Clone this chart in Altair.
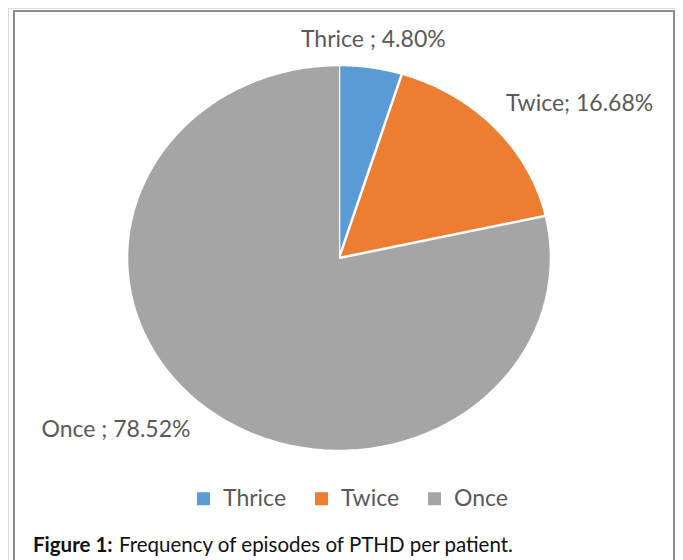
import altair as alt
import pandas as pd

# ---- data ----
categories = ["Thrice", "Twice", "Once"]
percentages = [4.80, 16.68, 78.52]
label_texts = ["Thrice ; 4.80%", "Twice; 16.68%", "Once ; 78.52%"]
colors = ["#5B9BD5", "#ED7D31", "#A5A5A5"]

df = pd.DataFrame({
    "category": categories,
    "pct": percentages,
    "label": label_texts,
    "order": list(range(len(categories))),
})

# ---- layout constants (pixel-unit scales) ----
W, H = 667, 552
CX, CY = 331, 250          # pie centre inside the view
RX, RY = 212, 193          # elliptical radii (original chart is stretched)
N = 90
FONT = "Lato"
GREY_TXT = "#595959"

xscale = alt.Scale(domain=[-CX, W - CX], nice=False, zero=False)
yscale = alt.Scale(domain=[-(H - CY), CY], nice=False, zero=False)

base = alt.Chart(df).transform_window(
    cum="sum(pct)", sort=[alt.SortField("order")], frame=[None, 0]
).transform_joinaggregate(
    total="sum(pct)"
).transform_calculate(
    a0="(datum.cum - datum.pct) / datum.total * 2 * PI",
    a1="datum.cum / datum.total * 2 * PI",
)

color_enc = alt.Color(
    "category:N",
    scale=alt.Scale(domain=categories, range=colors),
    sort=categories,
    legend=alt.Legend(
        title=None,
        orient="none",
        direction="horizontal",
        legendX=184,
        legendY=479,
        symbolType="square",
        symbolSize=170,
        symbolStrokeWidth=0,
        labelFont=FONT,
        labelFontSize=23,
        labelColor=GREY_TXT,
        labelOffset=8,
        columnPadding=23,
    ),
)

slices = base.transform_calculate(
    idx=f"sequence(-1, {N + 1})"
).transform_flatten(["idx"]).transform_calculate(
    t=f"datum.a0 + (datum.a1 - datum.a0) * max(datum.idx, 0) / {N}",
    r="datum.idx < 0 ? 0 : 1",
).transform_calculate(
    px=f"{RX} * datum.r * sin(datum.t)",
    py=f"{RY} * datum.r * cos(datum.t)",
).mark_line(filled=True, stroke="white", strokeWidth=2.5, strokeJoin="round").encode(
    x=alt.X("px:Q", scale=xscale, axis=None),
    y=alt.Y("py:Q", scale=yscale, axis=None),
    color=color_enc,
    order=alt.Order("idx:Q"),
    detail="category:N",
)

labels_base = base.transform_calculate(
    mid="(datum.a0 + datum.a1) / 2"
).transform_calculate(
    lx=f"{RX} * 1.14 * sin(datum.mid)",
    ly=f"{RY} * 1.14 * cos(datum.mid)",
)

label_offsets = {"Thrice": (-2, 0), "Twice": (63, -5), "Once": (-72, 0)}
label_layers = []
for cat in categories:
    dx, dy = label_offsets[cat]
    label_layers.append(
        labels_base.transform_filter(alt.datum.category == cat).mark_text(
            font=FONT, fontSize=23, color=GREY_TXT, align="center",
            baseline="middle", dx=dx, dy=dy,
        ).encode(
            x=alt.X("lx:Q", scale=xscale, axis=None),
            y=alt.Y("ly:Q", scale=yscale, axis=None),
            text="label:N",
        )
    )

frame = alt.Chart(df).mark_rect(
    fill=None, stroke="#8C8C8C", strokeWidth=2
).encode(
    x=alt.value(6), x2=alt.value(666), y=alt.value(3), y2=alt.value(700)
).transform_filter(alt.datum.order == 0)

cap1 = alt.Chart(df).transform_filter(alt.datum.order == 0).mark_text(
    text="Figure 1:", font=FONT, fontSize=20.5, fontWeight="bold", color="#111111",
    align="left", baseline="alphabetic",
).encode(x=alt.value(25), y=alt.value(544))

cap2 = alt.Chart(df).transform_filter(alt.datum.order == 0).mark_text(
    text="Frequency of episodes of PTHD per patient.", font=FONT, fontSize=20.5,
    color="#111111", align="left", baseline="alphabetic",
).encode(x=alt.value(111), y=alt.value(544))

chart = alt.layer(frame, slices, *label_layers, cap1, cap2).properties(
    width=W, height=H, padding=0, autosize=alt.AutoSizeParams(type="none"),
).configure_view(stroke=None).configure(background="white")

chart.save("out.html", embed_options={"renderer": "svg", "actions": False})
